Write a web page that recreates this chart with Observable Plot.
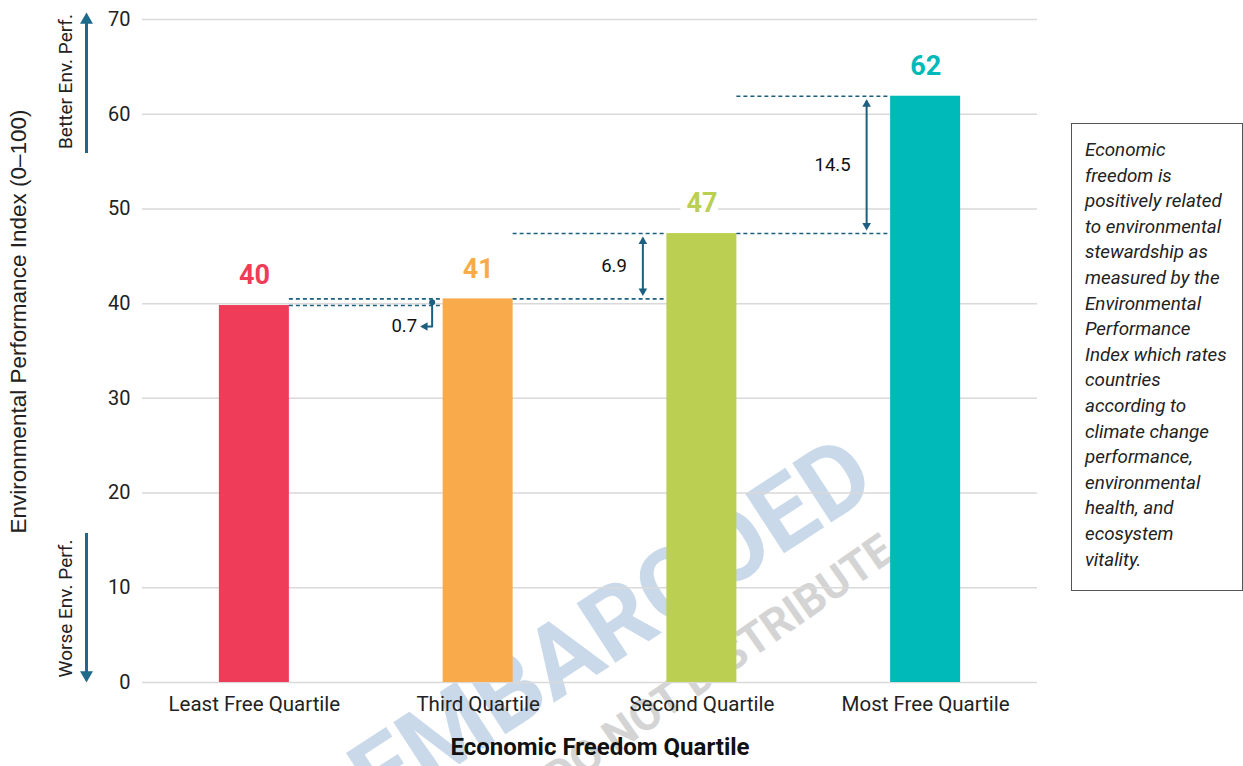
<!DOCTYPE html>
<html>
<head>
<meta charset="utf-8">
<script src="https://cdn.jsdelivr.net/npm/d3@7"></script>
<script src="https://cdn.jsdelivr.net/npm/@observablehq/plot@0.6"></script>
<style>
  html, body { margin: 0; padding: 0; background: #fff; }
  #wrap { position: relative; width: 1243px; height: 766px; font-family: Roboto, "Noto Sans", sans-serif; }
  #wrap svg { position: absolute; left: 0; top: 0; }
  #note {
    position: absolute; left: 1071px; top: 123px; width: 157px; height: 452px;
    border: 1px solid #555; padding: 14px 0 0 13px;
    font-family: Roboto, sans-serif; font-style: italic; font-size: 18.8px; line-height: 25.6px; color: #222;
    white-space: pre; box-sizing: content-box;
  }
</style>
</head>
<body>
<div id="wrap"></div>
<script>
// ---- data ----
const categories = ["Least Free Quartile", "Third Quartile", "Second Quartile", "Most Free Quartile"];
const values = [39.8, 40.5, 47.4, 61.9];
const valueLabels = ["40", "41", "47", "62"];
const barColors = ["#EF3C59", "#F9AA4B", "#BBD052", "#00BABA"];
const diffLabels = ["0.7", "6.9", "14.5"];
const yTicks = [0, 10, 20, 30, 40, 50, 60, 70];
const yTitle = "Environmental Performance Index (0\u2013100)";
const xTitle = "Economic Freedom Quartile";
const betterLabel = "Better Env. Perf.";
const worseLabel = "Worse Env. Perf.";
const watermark1 = "EMBARGOED";
const watermark2 = "PLEASE DO NOT DISTRIBUTE";
const noteLines = ["Economic", "freedom is", "positively related", "to environmental", "stewardship as",
  "measured by the", "Environmental", "Performance", "Index which rates", "countries",
  "according to", "climate change", "performance,", "environmental", "health, and",
  "ecosystem", "vitality."];

// ---- layout ----
const W = 1243, H = 766, mL = 142, mR = 206, mT = 19, mB = 84;
const pxX = (W - mL - mR) / 4;          // px per category unit
const pxY = (H - mT - mB) / 70;         // px per index point
const half = 35 / pxX;                  // half bar width
const ann = "#1D5F80";
const sideColor = "#1D6A8A";
// helpers converting page pixels into chart units (for decorative annotations only)
const X = px => (px - mL) / pxX - 0.5;
const Y = py => (H - mB - py) / pxY;
// triangle tip offset for a d3 symbolTriangle of radius r (Plot dot)
const tipOff = r => 2 * Math.sqrt(Math.PI * r * r / (3 * Math.sqrt(3)));

const bars = categories.map((c, i) => ({i, c, v: values[i], lab: valueLabels[i], color: barColors[i]}));

// dashed guide segments between consecutive bars
const segs = [];
const pairs = [];
for (let i = 0; i < values.length - 1; i++) {
  const x1 = i + half, x2 = i + 1 - half - 2 / pxX;
  segs.push({x1, x2, y: values[i]});
  segs.push({x1, x2, y: values[i + 1]});
  pairs.push({i, lo: values[i], hi: values[i + 1], mid: (values[i] + values[i + 1]) / 2, lab: diffLabels[i]});
}
const rs = 3.2, ts = tipOff(rs);
const bigPairs = pairs.filter(p => p.i > 0).map(p => ({...p, ax: p.i + 1 - half - 24 / pxX}));
const heads = [];
bigPairs.forEach(p => {
  heads.push({x: p.ax, y: p.hi - (3 + ts) / pxY, rot: 0});
  heads.push({x: p.ax, y: p.lo + (3 + ts) / pxY, rot: 180});
});
const small = pairs[0];
const sx = small.i + 1 - half - 11 / pxX;
const elbowY = small.lo - 21 / pxY;
const smallTipX = sx - 12 / pxX;
heads.push({x: smallTipX + ts / pxX, y: elbowY, rot: -90});

// side arrows
const rb = 4.8, tb = tipOff(rb);
const arrowX = X(86);
const labelX = X(65);
const sideHeads = [
  {x: arrowX, y: Y(12) - tb / pxY, rot: 0},
  {x: arrowX, y: Y(682) + tb / pxY, rot: 180}
];

const fontFamily = "Roboto, sans-serif";

const plot = Plot.plot({
  width: W, height: H,
  marginLeft: mL, marginRight: mR, marginTop: mT, marginBottom: mB,
  style: {fontFamily, fontSize: "20px", color: "#222", background: "transparent", overflow: "visible"},
  x: {domain: [-0.5, 3.5], axis: null},
  y: {domain: [0, 70], axis: null},
  marks: [
    // watermark
    Plot.text([watermark1], {x: X(612), y: Y(626), rotate: -33, fontSize: 100, fontWeight: "bold", fill: "#c9d9ea", fontFamily}),
    Plot.text([watermark2], {x: X(650), y: Y(712), rotate: -35, fontSize: 44, fontWeight: "bold", fill: "#d4d4d4", fontFamily}),
    Plot.gridY(yTicks, {stroke: "#d9d9d9", strokeOpacity: 1, strokeWidth: 1.5}),
    Plot.axisY(yTicks, {tickSize: 0, tickPadding: 12, fontSize: 20, label: null, fill: "#222"}),
    Plot.axisX([0, 1, 2, 3], {tickSize: 0, tickPadding: 14, fontSize: 20.5, tickFormat: i => categories[i], label: null, fill: "#222"}),
    Plot.rect(bars, {x1: d => d.i - half, x2: d => d.i + half, y1: 0, y2: "v", fill: "color"}),
    Plot.text(bars, {x: "i", y: "v", text: "lab", dy: -30, fontSize: 27, fontWeight: "bold", fill: "color", stroke: "white", strokeWidth: 14, paintOrder: "stroke"}),
    // dashed guides
    Plot.ruleY(segs, {y: "y", x1: "x1", x2: "x2", stroke: ann, strokeWidth: 1.6, strokeDasharray: "4,3"}),
    // double arrows
    Plot.ruleX(bigPairs, {x: "ax", y1: d => d.lo + 5 / pxY, y2: d => d.hi - 5 / pxY, stroke: ann, strokeWidth: 2}),
    Plot.text(bigPairs, {x: d => d.ax - 16 / pxX, y: "mid", text: "lab", textAnchor: "end", fontSize: 18.5, fill: "#111"}),
    // elbow arrow for small gap
    Plot.dot([small], {x: () => sx, y: "mid", r: 3, fill: ann}),
    Plot.ruleX([small], {x: () => sx, y1: "mid", y2: () => elbowY - 1 / pxY, stroke: ann, strokeWidth: 2}),
    Plot.ruleY([small], {y: () => elbowY, x1: () => sx + 1 / pxX, x2: () => smallTipX + ts / pxX, stroke: ann, strokeWidth: 2}),
    Plot.dot(heads, {x: "x", y: "y", rotate: "rot", symbol: "triangle", r: rs, fill: ann, stroke: "none"}),
    Plot.text([small], {x: () => sx - 15 / pxX, y: () => elbowY, text: "lab", textAnchor: "end", fontSize: 18.5, fill: "#111"}),
    // side arrows
    Plot.ruleX([0], {x: arrowX, y1: Y(153), y2: Y(22), stroke: sideColor, strokeWidth: 3}),
    Plot.ruleX([0], {x: arrowX, y1: Y(533), y2: Y(672), stroke: sideColor, strokeWidth: 3}),
    Plot.dot(sideHeads, {x: "x", y: "y", rotate: "rot", symbol: "triangle", r: rb, fill: sideColor, stroke: "none"}),
    Plot.text([betterLabel], {x: labelX, y: Y(81), rotate: -90, fontSize: 19, fill: "#222"}),
    Plot.text([worseLabel], {x: labelX, y: Y(608), rotate: -90, fontSize: 19, fill: "#222"}),
    // axis titles
    Plot.text([yTitle], {x: X(18), y: Y(321), rotate: -90, fontSize: 22.5, fill: "#222", fontFamily: "'Liberation Sans', Arial, sans-serif"}),
    Plot.text([xTitle], {frameAnchor: "bottom", dx: 10, dy: 72, fontSize: 24, fontWeight: "bold", fill: "#111"})
  ]
});

const wrap = document.getElementById("wrap");
wrap.appendChild(plot);
const note = document.createElement("div");
note.id = "note";
note.textContent = noteLines.join("\n");
wrap.appendChild(note);
</script>
</body>
</html>
